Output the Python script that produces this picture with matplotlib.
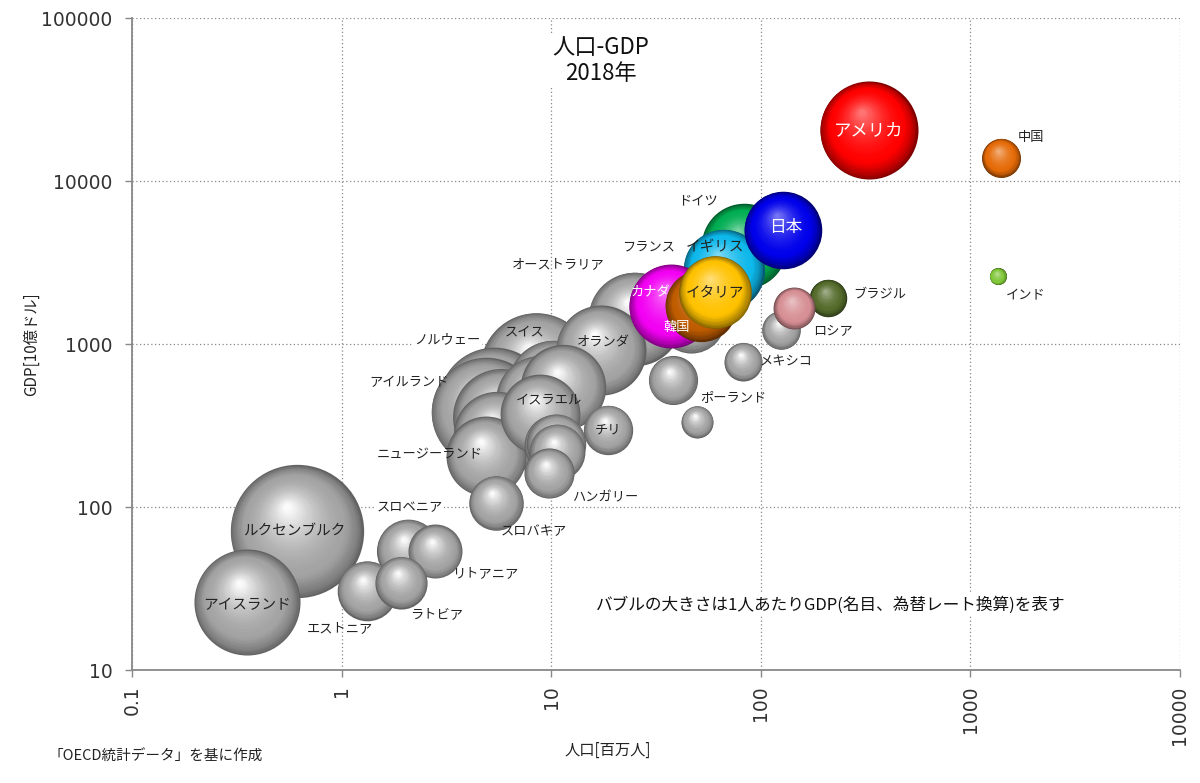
import numpy as np
import matplotlib
matplotlib.use("Agg")
import matplotlib.pyplot as plt
from matplotlib.transforms import ScaledTranslation

plt.rcParams['font.family'] = ['Noto Sans CJK JP', 'DejaVu Sans']

# data: population [million], GDP [billion USD], 2018
names = ['アメリカ', '中国', 'インド', '日本', 'ドイツ', 'イギリス', 'フランス', 'イタリア',
         'ブラジル', 'カナダ', 'ロシア', '韓国', 'オーストラリア', 'スペイン', 'メキシコ',
         'トルコ', 'オランダ', 'スイス', 'スウェーデン', 'ポーランド', 'ベルギー', 'オーストリア',
         'ノルウェー', 'アイルランド', 'イスラエル', 'デンマーク', 'コロンビア', 'チリ',
         'フィンランド', 'ポルトガル', 'チェコ', 'ニュージーランド', 'ギリシャ', 'ハンガリー',
         'スロバキア', 'ルクセンブルク', 'スロベニア', 'リトアニア', 'ラトビア', 'エストニア',
         'アイスランド']
pop = [327, 1400, 1350, 127, 82.9, 66.4, 67.0, 60.4,
       209, 37.1, 144.5, 51.6, 25.0, 46.7, 125,
       82.3, 17.2, 8.5, 10.2, 38.0, 11.4, 8.84,
       5.31, 4.86, 8.88, 5.79, 49.6, 18.7,
       5.52, 10.3, 10.6, 4.9, 10.7, 9.78,
       5.45, 0.61, 2.07, 2.8, 1.93, 1.32,
       0.353]
gdp = [20580, 13900, 2600, 5000, 3970, 2860, 2790, 2090,
       1920, 1710, 1660, 1720, 1430, 1420, 1220,
       780, 914, 705, 556, 600, 543, 455,
       434, 382, 370, 356, 334, 298,
       276, 241, 245, 205, 218, 161,
       106, 71, 54, 53.4, 34.4, 30.7,
       26]

# colored (non-gray) bubbles, in drawing order
colors = {
    'アメリカ': (1.0, 0.0, 0.0),
    '中国': (0.90, 0.42, 0.03),
    'インド': (0.50, 0.78, 0.22),
    'ブラジル': (0.33, 0.42, 0.17),
    'ロシア': (0.84, 0.56, 0.58),
    'ドイツ': (0.0, 0.68, 0.32),
    'フランス': (0.25, 0.30, 0.75),
    'イギリス': (0.05, 0.72, 0.92),
    '日本': (0.0, 0.0, 0.92),
    'カナダ': (0.95, 0.0, 0.95),
    '韓国': (0.75, 0.36, 0.0),
    'イタリア': (1.0, 0.76, 0.0),
}
gray = (0.64, 0.64, 0.64)

# label offsets in pixels (right, up) from bubble centre
label_off = {
    'アメリカ': (0, 0), '中国': (30, 20), 'インド': (28, -19), '日本': (3, 3),
    'ドイツ': (-46, 46), 'イギリス': (-9, 23), 'フランス': (-76, 24), 'イタリア': (0, 0),
    'カナダ': (-20, 13), '韓国': (-24, -22), 'オーストラリア': (-76, 54),
    'ブラジル': (52, 4), 'ロシア': (39, -23), 'メキシコ': (5, -32), 'ポーランド': (61, -17),
    'チリ': (0, 0), 'オランダ': (3, 7), 'スイス': (-12, 37), 'ノルウェー': (-46, 63),
    'アイルランド': (-76, 30), 'イスラエル': (9, 14), 'ニュージーランド': (-57, 1),
    'ハンガリー': (56, -25), 'スロバキア': (38, -29), 'スロベニア': (2, 43),
    'リトアニア': (50, -22), 'ラトビア': (35, -32), 'エストニア': (-27, -38),
    'ルクセンブルク': (-2, 0), 'アイスランド': (0, -3),
}
white_text = ['アメリカ', '日本', 'カナダ', '韓国']
big_text = {'アメリカ': 12.5, '日本': 12, 'イタリア': 10.5, 'イギリス': 10.5,
            'ルクセンブルク': 10.5, 'アイスランド': 10.5}
boxed = ['ノルウェー', 'スロベニア']

fig = plt.figure(figsize=(12, 7.83), dpi=100)
ax = fig.add_axes([0.11, 0.1443, 0.8733, 0.8327])
ax.set_xscale('log')
ax.set_yscale('log')
ax.set_xlim(0.1, 10000)
ax.set_ylim(10, 100000)


def sphere(x, y, r, col, z, is_gray):
    base = np.array(col)
    dark = base * (0.6 if is_gray else 0.5)
    hi = base * (0.05 if is_gray else 0.55) + (0.95 if is_gray else 0.45)
    n = 44
    for k in range(n):
        t = k / (n - 1)
        rk = r * (1 - 0.94 * t)
        if t < 0.25:
            c = dark + (base - dark) * (t / 0.25) ** 0.7
        else:
            c = base + (hi - base) * ((t - 0.25) / 0.75) ** 1.6
        tr = ax.transData + ScaledTranslation(-0.14 * r * t / 100, 0.36 * r * t / 100,
                                              fig.dpi_scale_trans)
        ax.scatter([x], [y], s=(2 * rk * 0.72) ** 2, color=np.clip(c, 0, 1),
                   linewidths=0, transform=tr, zorder=z)


idx = {n: i for i, n in enumerate(names)}
percap = [g / p for g, p in zip(gdp, pop)]
radius = [49 * np.sqrt(pc / 62.9) for pc in percap]

order = [n for n in names if n not in colors]
order.sort(key=lambda n: -radius[idx[n]])
order += list(colors.keys())

for z, n in enumerate(order):
    i = idx[n]
    sphere(pop[i], gdp[i], radius[i], colors.get(n, gray), 3 + z * 0.01, n not in colors)

for n, (dx, dy) in label_off.items():
    i = idx[n]
    kw = {}
    if n in boxed:
        kw['bbox'] = dict(facecolor='white', edgecolor='none', pad=1)
    ax.annotate(n, (pop[i], gdp[i]), xytext=(dx * 0.72, dy * 0.72),
                textcoords='offset points', ha='center', va='center',
                fontsize=big_text.get(n, 9.5), color='white' if n in white_text else '#222',
                zorder=10, **kw)

ax.text(0.447, 0.972, '人口-GDP\n2018年', transform=ax.transAxes, ha='center', va='top',
        fontsize=16, color='#111', linespacing=1.15, zorder=10,
        bbox=dict(facecolor='white', edgecolor='none', pad=2))
ax.text(0.667, 0.10, 'バブルの大きさは1人あたりGDP(名目、為替レート換算)を表す',
        transform=ax.transAxes, ha='center', va='center', fontsize=12, color='#111',
        zorder=10, bbox=dict(facecolor='white', edgecolor='none', pad=2))

xticks = [0.1, 1, 10, 100, 1000, 10000]
yticks = [10, 100, 1000, 10000, 100000]
ax.set_xticks(xticks)
ax.set_xticklabels(['0.1', '1', '10', '100', '1000', '10000'], rotation=90, va='top',
                   family='DejaVu Sans')
ax.set_yticks(yticks)
ax.set_yticklabels(['10', '100', '1000', '10000', '100000'], family='DejaVu Sans')
ax.minorticks_off()
ax.tick_params(axis='both', colors='#888', labelcolor='#333', labelsize=13.5, length=5, width=1)
ax.tick_params(axis='y', pad=9)
ax.tick_params(axis='x', pad=6)

ax.grid(True, which='major', color='#888', linestyle=(0, (1, 2)), linewidth=0.9)
ax.set_axisbelow(True)
for s in ['top', 'right']:
    ax.spines[s].set_visible(False)
for s in ['left', 'bottom']:
    ax.spines[s].set_color('#888')
    ax.spines[s].set_linewidth(1.3)

ax.set_xlabel('人口[百万人]', fontsize=11, color='#222')
ax.set_ylabel('GDP[10億ドル]', fontsize=11, color='#222')
ax.xaxis.set_label_coords(0.454, -0.110)
ax.yaxis.set_label_coords(-0.088, 0.5)
fig.text(0.04, 0.033, '「OECD統計データ」を基に作成', fontsize=10.5, color='#222', va='center')

fig.savefig('out.png', dpi=100)
